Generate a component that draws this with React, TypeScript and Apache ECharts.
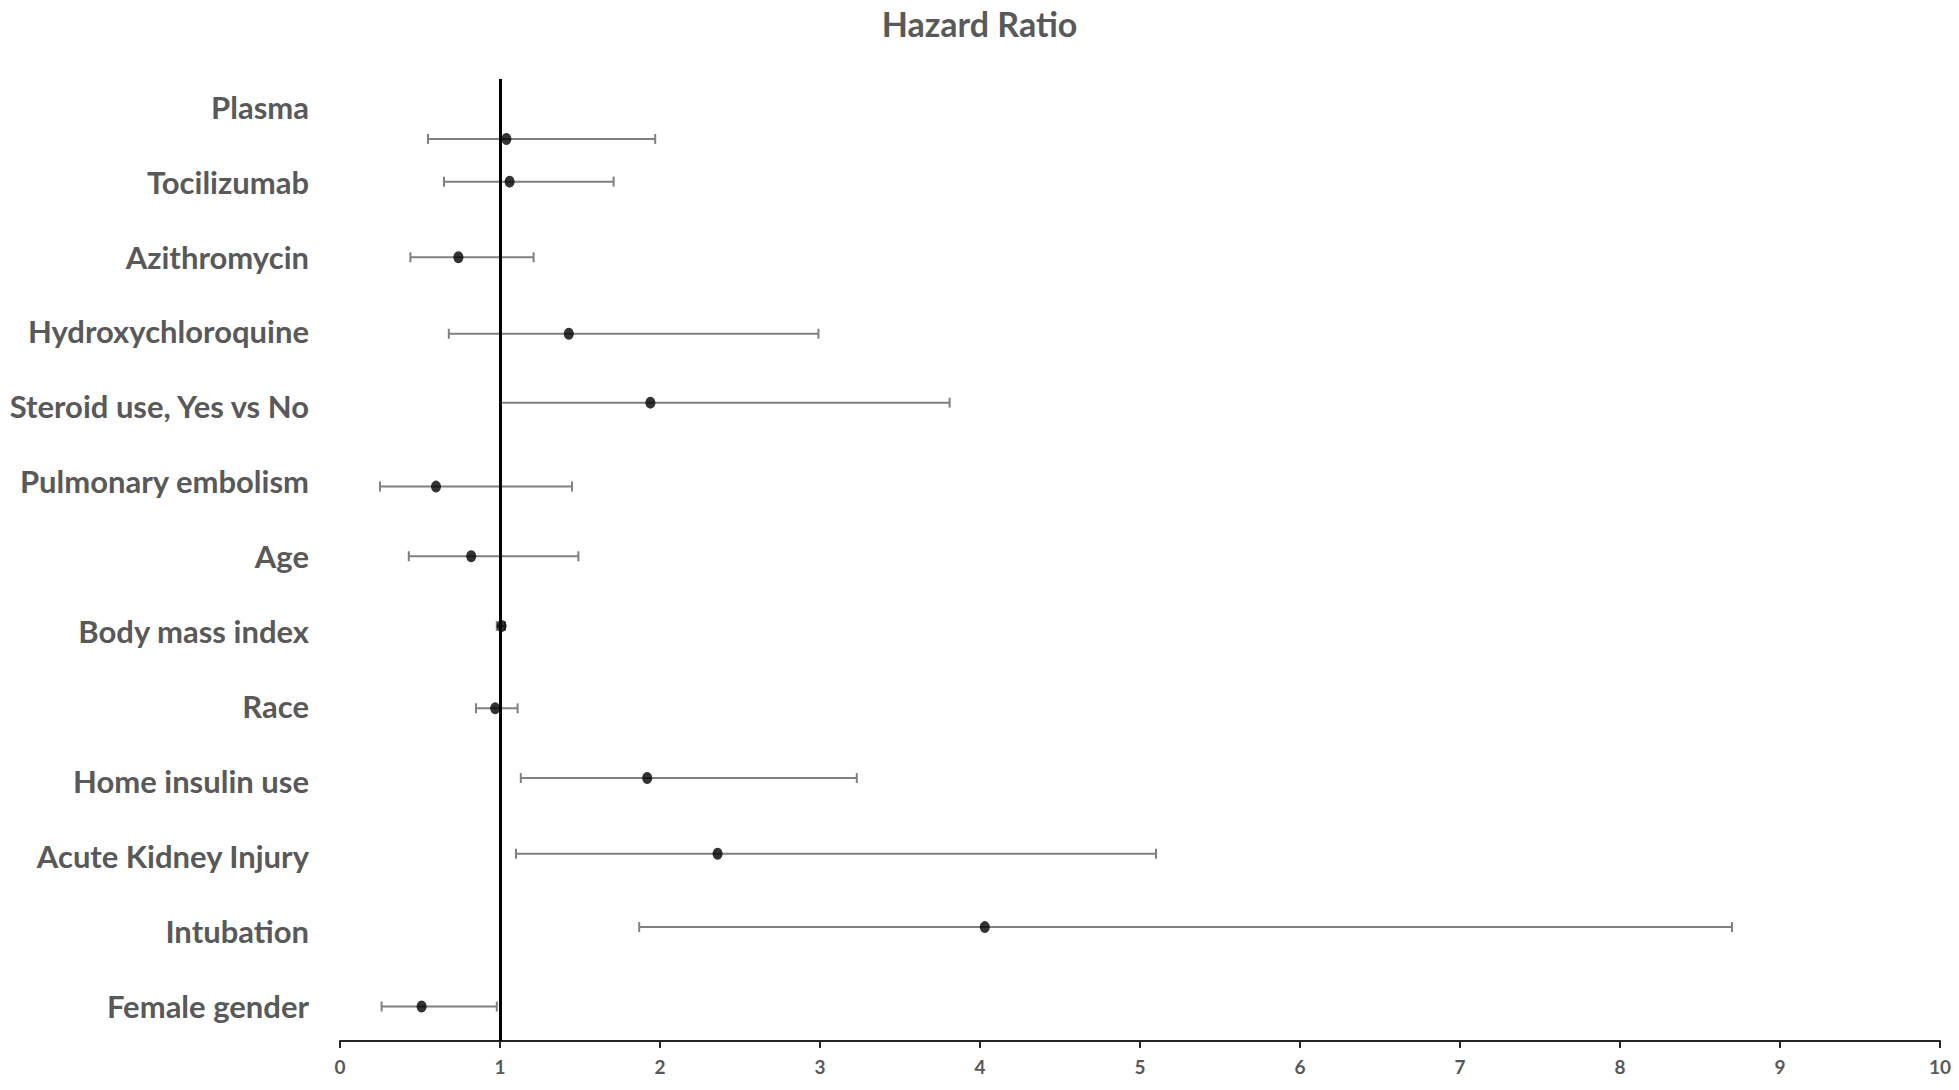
import React, { useEffect, useRef } from "react";
import * as echarts from "echarts";

// Categories, top to bottom (y position 13 .. 1)
const categories = [
  "Plasma",
  "Tocilizumab",
  "Azithromycin",
  "Hydroxychloroquine",
  "Steroid use, Yes vs No",
  "Pulmonary embolism",
  "Age",
  "Body mass index",
  "Race",
  "Home insulin use",
  "Acute Kidney Injury",
  "Intubation",
  "Female gender",
];
const labelPositions = [13, 12, 11, 10, 9, 8, 7, 6, 5, 4, 3, 2, 1];

// Hazard ratios and 95% CI
const hazardRatio = [1.04, 1.06, 0.74, 1.43, 1.94, 0.6, 0.82, 1.01, 0.97, 1.92, 2.36, 4.03, 0.51];
const ciLower = [0.55, 0.65, 0.44, 0.68, 1.0, 0.25, 0.43, 0.98, 0.85, 1.13, 1.1, 1.87, 0.26];
const ciUpper = [1.97, 1.71, 1.21, 2.99, 3.81, 1.45, 1.49, 1.03, 1.11, 3.23, 5.1, 8.7, 0.98];
// Vertical position of each marker (as plotted)
const markerY = [12.57, 12.0, 10.99, 9.97, 9.05, 7.93, 7.0, 6.07, 4.97, 4.04, 3.03, 2.05, 0.99];

const xTicks = [0, 1, 2, 3, 4, 5, 6, 7, 8, 9, 10];
const referenceValue = 1;

const FONT = "Lato, 'Open Sans', sans-serif";
const GRAY = "#595959";

export default function App() {
  const ref = useRef<HTMLDivElement>(null);

  useEffect(() => {
    if (!ref.current) return;
    const chart = echarts.init(ref.current, undefined, { renderer: "svg" });

    const barData = categories.map((_, i) => [ciLower[i], ciUpper[i], markerY[i]]);
    const pointData = categories.map((_, i) => [hazardRatio[i], markerY[i]]);

    const labelMap: Record<number, string> = {};
    labelPositions.forEach((p, i) => (labelMap[p] = categories[i]));

    chart.setOption({
      animation: false,
      backgroundColor: "#ffffff",
      title: {
        text: "Hazard Ratio",
        left: "center",
        top: 1,
        textStyle: { fontFamily: FONT, fontWeight: "bold", fontSize: 34, color: GRAY },
      },
      grid: { left: 340, right: 19, top: 79, bottom: 49, containLabel: false },
      xAxis: {
        type: "value",
        min: xTicks[0],
        max: xTicks[xTicks.length - 1],
        interval: 1,
        axisLine: { show: true, lineStyle: { color: "#262626", width: 2 } },
        axisTick: { show: true, length: 7, lineStyle: { color: "#262626", width: 2 } },
        axisLabel: {
          fontFamily: FONT,
          fontWeight: "bold",
          fontSize: 19,
          color: GRAY,
          margin: 16,
        },
        splitLine: { show: false },
      },
      yAxis: {
        type: "value",
        min: 0.53,
        max: 13.37,
        axisLine: { show: false },
        axisTick: { show: false },
        splitLine: { show: false },
        axisLabel: {
          customValues: labelPositions,
          formatter: (v: number) => labelMap[Math.round(v)] ?? "",
          fontFamily: FONT,
          fontWeight: "bold",
          fontSize: 31,
          color: GRAY,
          margin: 31,
        },
      },
      series: [
        {
          type: "custom",
          z: 2,
          data: barData,
          encode: { x: [0, 1], y: 2 },
          renderItem: (_params: any, api: any) => {
            const lo = api.coord([api.value(0), api.value(2)]);
            const hi = api.coord([api.value(1), api.value(2)]);
            const h = 5;
            const style = { stroke: "#808080", lineWidth: 2, fill: "none" };
            return {
              type: "group",
              children: [
                { type: "line", shape: { x1: lo[0], y1: lo[1], x2: hi[0], y2: hi[1] }, style },
                { type: "line", shape: { x1: lo[0], y1: lo[1] - h, x2: lo[0], y2: lo[1] + h }, style },
                { type: "line", shape: { x1: hi[0], y1: hi[1] - h, x2: hi[0], y2: hi[1] + h }, style },
              ],
            };
          },
        },
        {
          type: "line",
          z: 3,
          data: [],
          markLine: {
            silent: true,
            symbol: "none",
            label: { show: false },
            lineStyle: { color: "#000000", width: 3, type: "solid" },
            data: [{ xAxis: referenceValue }],
          },
        },
        {
          type: "scatter",
          z: 4,
          data: pointData,
          symbol: "circle",
          symbolSize: [10, 12],
          itemStyle: { color: "#000000" },
        },
      ],
    });

    return () => chart.dispose();
  }, []);

  return (
    <div
      ref={ref}
      style={{ position: "fixed", left: 0, top: 0, width: 1959, height: 1090, background: "#fff" }}
    />
  );
}
